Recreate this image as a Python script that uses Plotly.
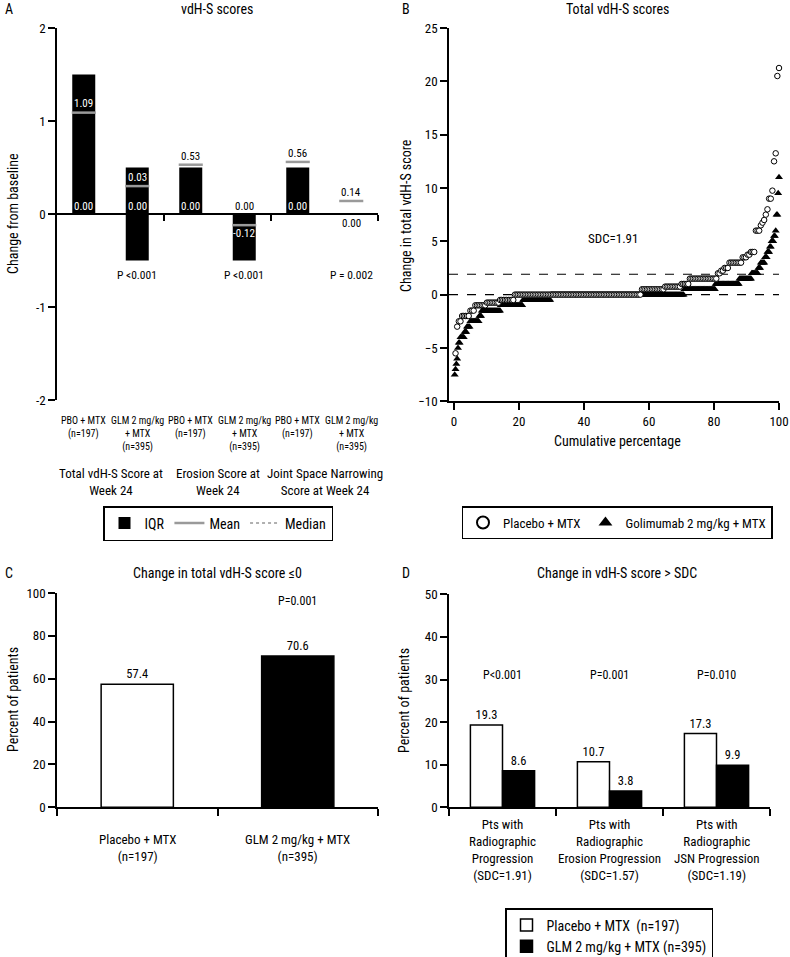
import numpy as np
import plotly.graph_objects as go

FONT = "Liberation Sans Narrow, Arial Narrow, Roboto Condensed, Liberation Sans, Arial, sans-serif"
W, H = 790, 957

# ---------------- Panel A data ----------------
a_groups = ["Total vdH-S Score at<br>Week 24", "Erosion Score at<br>Week 24",
            "Joint Space Narrowing<br>Score at Week 24"]
a_arms = ["PBO + MTX<br>(n=197)", "GLM 2 mg/kg<br>+ MTX<br>(n=395)"] * 3
a_iqr_low = [0, -0.5, 0, -0.5, 0, 0]
a_iqr_high = [1.5, 0.5, 0.5, 0, 0.5, 0]
a_mean = [1.09, 0.30, 0.53, -0.12, 0.56, 0.14]
a_mean_labels = ["1.09", "0.03", "0.53", "-0.12", "0.56", "0.14"]
a_median = [0, 0, 0, 0, 0, 0]
a_median_labels = ["0.00", "0.00", "0.00", "0.00", "0.00", "0.00"]
a_pvalues = ["P <0.001", "P <0.001", "P = 0.002"]

# ---------------- Panel B data (change value, number of patients) ----------------
b_pbo_values = [-5.5, -3.0, -2.5, -2.0, -1.5, -1.0, -0.75, -0.5, 0, 0.5, 0.75, 1.0, 1.5,
                2.0, 2.25, 2.5, 3.0, 3.5, 3.75, 4.0, 6.0, 6.5, 6.75, 7.0, 7.5, 8.0, 9.0,
                9.75, 12.5, 13.25, 20.5, 21.25]
b_pbo_counts = [1, 1, 2, 5, 3, 7, 8, 9, 77, 14, 10, 5, 17,
                2, 2, 3, 8, 3, 2, 3, 3, 1, 1, 1, 1, 1, 2,
                1, 1, 1, 1, 1]
b_glm_values = [-7.5, -7.0, -6.5, -6.0, -5.0, -4.5, -4.0, -3.5, -3.0, -2.5, -2.0, -1.5,
                -1.0, -0.5, 0, 0.5, 1.0, 1.5, 2.0, 2.5, 3.0, 3.5, 4.0, 4.5, 5.0, 5.5,
                6.0, 7.5, 9.5, 11.0]
b_glm_counts = [1, 1, 1, 1, 1, 2, 5, 3, 4, 11, 3, 23,
                27, 34, 162, 38, 29, 15, 8, 3, 5, 3, 3, 2, 3, 2,
                1, 2, 1, 1]
b_sdc = 1.91
b_sdc_label = "SDC=1.91"

# ---------------- Panel C data ----------------
c_arms = ["Placebo + MTX<br>(n=197)", "GLM 2 mg/kg + MTX<br>(n=395)"]
c_values = [57.4, 70.6]
c_pvalue = "P=0.001"

# ---------------- Panel D data ----------------
d_groups = ["Pts with<br>Radiographic<br>Progression<br>(SDC=1.91)",
            "Pts with<br>Radiographic<br>Erosion Progression<br>(SDC=1.57)",
            "Pts with<br>Radiographic<br>JSN Progression<br>(SDC=1.19)"]
d_pbo = [19.3, 10.7, 17.3]
d_glm = [8.6, 3.8, 9.9]
d_pvalues = ["P<0.001", "P=0.001", "P=0.010"]

# ---------------- layout helpers ----------------
def px_x(p):
    return p / W

def px_y(p):
    return 1 - p / H

domA_x = [px_x(57), px_x(378)]
domA_y = [px_y(400), px_y(28)]
domB_x = [px_x(449), px_x(779)]
domB_y = [px_y(401.3), px_y(28)]
domC_x = [px_x(57), px_x(378)]
domC_y = [px_y(807.3), px_y(593)]
domD_x = [px_x(449), px_x(770)]
domD_y = [px_y(807.3), px_y(594.3)]

fig = go.Figure()

# ---------------- Panel A ----------------
xa = np.arange(len(a_arms))
low = np.array(a_iqr_low, dtype=float)
high = np.array(a_iqr_high, dtype=float)
barw_a = 0.43
fig.add_trace(go.Bar(x=xa, y=high - low, base=low, width=barw_a,
                     marker=dict(color="black", line=dict(width=0)),
                     name="IQR", legend="legend", xaxis="x", yaxis="y",
                     hoverinfo="skip"))

def seg(vals):
    xs, ys = [], []
    for i, v in enumerate(vals):
        xs += [i - barw_a / 2 - 0.01, i + barw_a / 2 + 0.01, None]
        ys += [v, v, None]
    return xs, ys

mx, my = seg(a_mean)
fig.add_trace(go.Scatter(x=mx, y=my, mode="lines", line=dict(color="#9a9a9a", width=2.5),
                         name="Mean", legend="legend", xaxis="x", yaxis="y"))
dx, dy = seg(a_median)
fig.add_trace(go.Scatter(x=dx, y=dy, mode="lines",
                         line=dict(color="#b0b0b0", width=2, dash="dot"),
                         name="Median", legend="legend", xaxis="x", yaxis="y"))

annotations = []
mean_col = ["white", "white", "black", "white", "black", "black"]
mean_shift = [9, 9, 8, -8, 8, 8]
med_col = ["white", "white", "white", "black", "white", "black"]
med_shift = [8, 8, 8, 8, 8, -9]
for i in range(len(a_arms)):
    annotations.append(dict(x=i, y=a_mean[i], xref="x", yref="y", text=a_mean_labels[i],
                            showarrow=False, yshift=mean_shift[i],
                            font=dict(size=11, color=mean_col[i])))
    annotations.append(dict(x=i, y=a_median[i], xref="x", yref="y", text=a_median_labels[i],
                            showarrow=False, yshift=med_shift[i],
                            font=dict(size=11, color=med_col[i])))
    annotations.append(dict(x=i, y=px_y(413), xref="x", yref="paper", text=a_arms[i],
                            showarrow=False, yanchor="top", font=dict(size=10)))
for g in range(len(a_groups)):
    annotations.append(dict(x=2 * g + 0.5, y=px_y(464), xref="x", yref="paper",
                            text=a_groups[g], showarrow=False, yanchor="top",
                            font=dict(size=13)))
    annotations.append(dict(x=2 * g + 1, y=-0.66, xref="x", yref="y", text=a_pvalues[g],
                            showarrow=False, font=dict(size=11.5)))

posA = domA_y[0] + (0 - (-2)) / 4 * (domA_y[1] - domA_y[0])

# ---------------- Panel B ----------------
pbo_y = np.repeat(b_pbo_values, b_pbo_counts)
glm_y = np.repeat(b_glm_values, b_glm_counts)
pbo_x = np.arange(1, len(pbo_y) + 1) / len(pbo_y) * 100
glm_x = np.arange(1, len(glm_y) + 1) / len(glm_y) * 100
fig.add_trace(go.Scatter(x=glm_x, y=glm_y, mode="markers",
                         marker=dict(symbol="triangle-up", size=7, color="black",
                                     line=dict(width=0)),
                         name="Golimumab 2 mg/kg + MTX", legend="legend2",
                         xaxis="x2", yaxis="y2", cliponaxis=False))
fig.add_trace(go.Scatter(x=pbo_x, y=pbo_y, mode="markers",
                         marker=dict(symbol="circle", size=5.5, color="white",
                                     line=dict(color="black", width=1)),
                         name="Placebo + MTX", legend="legend2",
                         xaxis="x2", yaxis="y2", cliponaxis=False))
shapes = []
for yv in [0, b_sdc]:
    shapes.append(dict(type="line", xref="x2 domain", yref="y2", x0=0, x1=1, y0=yv, y1=yv,
                       line=dict(color="black", width=1.2, dash="dash"), layer="below"))
annotations.append(dict(x=49, y=5.3, xref="x2", yref="y2", text=b_sdc_label,
                        showarrow=False, font=dict(size=13)))

# ---------------- Panel C ----------------
xc = np.arange(len(c_arms))
fig.add_trace(go.Bar(x=xc, y=c_values, width=0.45,
                     marker=dict(color=["white", "black"], line=dict(color="black", width=1.5)),
                     text=[f"{v:.1f}" for v in c_values], textposition="outside",
                     textfont=dict(size=12.5), cliponaxis=False,
                     showlegend=False, xaxis="x3", yaxis="y3"))
for i in range(len(c_arms)):
    annotations.append(dict(x=i, y=px_y(830), xref="x3", yref="paper", text=c_arms[i],
                            showarrow=False, yanchor="top", font=dict(size=13)))
annotations.append(dict(x=1, y=96.4, xref="x3", yref="y3", text=c_pvalue,
                        showarrow=False, font=dict(size=12)))

# ---------------- Panel D ----------------
xd = np.arange(len(d_groups))
fig.add_trace(go.Bar(x=xd, y=d_pbo, width=0.3, offset=-0.3,
                     marker=dict(color="white", line=dict(color="black", width=1.5)),
                     text=[f"{v:.1f}" for v in d_pbo], textposition="outside",
                     textfont=dict(size=12.5), cliponaxis=False,
                     name="Placebo + MTX  (n=197)", legend="legend3",
                     xaxis="x4", yaxis="y4"))
fig.add_trace(go.Bar(x=xd, y=d_glm, width=0.3, offset=0,
                     marker=dict(color="black", line=dict(color="black", width=1.5)),
                     text=[f"{v:.1f}" for v in d_glm], textposition="outside",
                     textfont=dict(size=12.5), cliponaxis=False,
                     name="GLM 2 mg/kg + MTX (n=395)", legend="legend3",
                     xaxis="x4", yaxis="y4"))
for i in range(len(d_groups)):
    annotations.append(dict(x=i, y=px_y(815), xref="x4", yref="paper", text=d_groups[i],
                            showarrow=False, yanchor="top", font=dict(size=13)))
    annotations.append(dict(x=i, y=31, xref="x4", yref="y4", text=d_pvalues[i],
                            showarrow=False, font=dict(size=12)))

# ---------------- titles, panel letters, axis titles ----------------
def txt(x, y, t, size=14, angle=0, xanchor="center"):
    annotations.append(dict(x=px_x(x), y=px_y(y), xref="paper", yref="paper", text=t,
                            showarrow=False, font=dict(size=size), textangle=angle,
                            xanchor=xanchor, yanchor="middle"))

txt(3, 9, "A", 14, xanchor="left")
txt(217, 9, "vdH-S scores")
txt(400, 9, "B", 14, xanchor="left")
txt(617, 9, "Total vdH-S scores")
txt(3, 573, "C", 14, xanchor="left")
txt(217, 573, "Change in total vdH-S score ≤0")
txt(400, 573, "D", 14, xanchor="left")
txt(617, 573, "Change in vdH-S score > SDC")
txt(13, 214, "Change from baseline", 14, -90)
txt(406, 215, "Change in total vdH-S score", 14, -90)
txt(617, 441, "Cumulative percentage", 14)
txt(13, 700, "Percent of patients", 14, -90)
txt(404, 700, "Percent of patients", 14, -90)

axis_common = dict(showgrid=False, zeroline=False, showline=True, linecolor="black",
                   linewidth=1.5, ticks="outside", tickcolor="black", tickwidth=1.5,
                   ticklen=7, tickfont=dict(size=13), automargin=False)

layout = dict(
    width=W, height=H, margin=dict(l=0, r=0, t=0, b=0, autoexpand=False),
    paper_bgcolor="white", plot_bgcolor="white",
    font=dict(family=FONT, color="black", size=13),
    barmode="overlay", showlegend=True,
    xaxis=dict(axis_common, domain=domA_x, range=[-0.5, 5.5], tickvals=[1.5, 3.5, 5.5],
               showticklabels=False, anchor="free", position=posA, ticklen=6),
    yaxis=dict(axis_common, domain=domA_y, range=[-2, 2], tickvals=[-2, -1, 0, 1, 2],
               ticktext=["-2", "-1", "0", "1", "2"], anchor="x"),
    xaxis2=dict(axis_common, domain=domB_x, range=[-1.5, 100], tickvals=[0, 20, 40, 60, 80, 100],
                anchor="y2"),
    yaxis2=dict(axis_common, domain=domB_y, range=[-10, 25], tickvals=[-10, -5, 0, 5, 10, 15, 20, 25],
                anchor="x2"),
    xaxis3=dict(axis_common, domain=domC_x, range=[-0.5, 1.5], tickvals=[-0.5, 0.5, 1.5],
                showticklabels=False, anchor="y3"),
    yaxis3=dict(axis_common, domain=domC_y, range=[0, 100], tickvals=[0, 20, 40, 60, 80, 100],
                anchor="x3"),
    xaxis4=dict(axis_common, domain=domD_x, range=[-0.5, 2.5], tickvals=[-0.5, 0.5, 1.5, 2.5],
                showticklabels=False, anchor="y4"),
    yaxis4=dict(axis_common, domain=domD_y, range=[0, 50], tickvals=[0, 10, 20, 30, 40, 50],
                anchor="x4"),
    legend=dict(x=px_x(218), y=px_y(506), xanchor="center", yanchor="top", orientation="h",
                bordercolor="black", borderwidth=1.5, font=dict(size=14), bgcolor="white",
                traceorder="normal"),
    legend2=dict(x=px_x(617), y=px_y(506), xanchor="center", yanchor="top", orientation="h",
                 bordercolor="black", borderwidth=1.5, font=dict(size=13), bgcolor="white",
                 traceorder="reversed", itemsizing="constant"),
    legend3=dict(x=px_x(609), y=px_y(908), xanchor="center", yanchor="top", orientation="v",
                 bordercolor="black", borderwidth=1.5, font=dict(size=14), bgcolor="white",
                 traceorder="normal", tracegroupgap=0),
    annotations=annotations,
    shapes=shapes,
)
fig.update_layout(layout)
fig.write_html("out.html", config={"displayModeBar": False},
               post_script="document.body.style.margin='0';document.body.style.overflow='hidden';")
